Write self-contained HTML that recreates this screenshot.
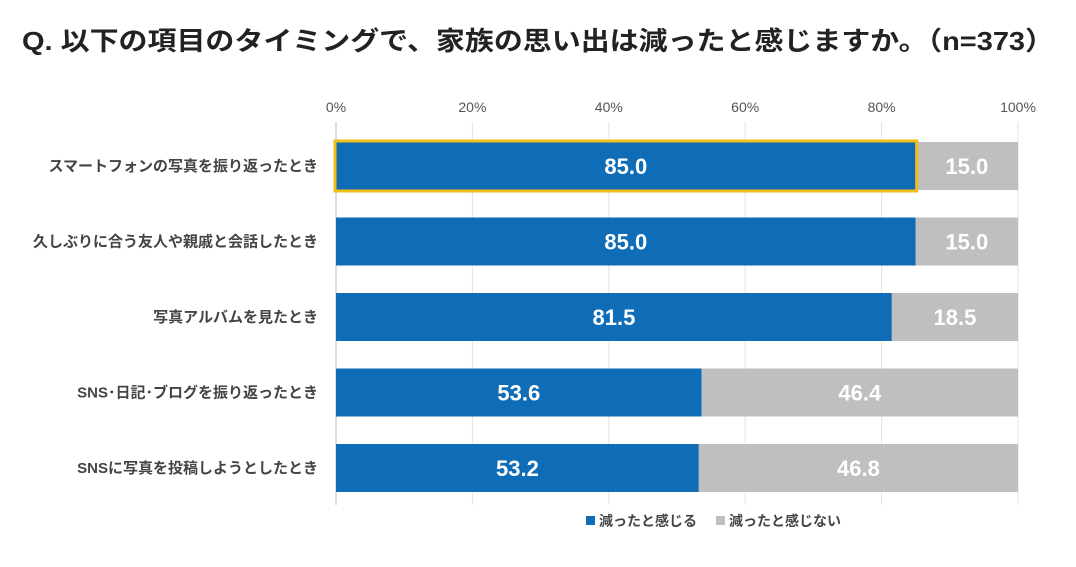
<!DOCTYPE html>
<html><head><meta charset="utf-8">
<style>
body{margin:0;background:#fff;width:1076px;height:562px;overflow:hidden;font-family:"Liberation Sans","Noto Sans CJK JP",sans-serif;}
svg text{font-family:"Liberation Sans","Noto Sans CJK JP",sans-serif;}
</style></head>
<body>
<svg id="chart" width="1076" height="562" xmlns="http://www.w3.org/2000/svg">
<text x="22" y="50" textLength="1032" lengthAdjust="spacingAndGlyphs" font-size="26" font-weight="bold" fill="#222">Q. 以下の項目のタイミングで、家族の思い出は減ったと感じますか。（n=373）</text>
<g id="grid"></g><g id="bars"></g>
<g>
<rect x="586" y="516" width="9" height="9" fill="#0F6CB6"/>
<text x="599" y="526" font-size="14" font-weight="bold" fill="#444">減ったと感じる</text>
<rect x="716" y="516" width="9" height="9" fill="#BFBFBF"/>
<text x="729" y="526" font-size="14" font-weight="bold" fill="#444">減ったと感じない</text>
</g>
</svg>
<script>
const categories=["スマートフォンの写真を振り返ったとき","久しぶりに合う友人や親戚と会話したとき","写真アルバムを見たとき","SNS･日記･ブログを振り返ったとき","SNSに写真を投稿しようとしたとき"];
const yesValues=[85.0,85.0,81.5,53.6,53.2];
const noValues=[15.0,15.0,18.5,46.4,46.8];
const ticks=[0,20,40,60,80,100];
const NS="http://www.w3.org/2000/svg";
const x0=336,x1=1018;
const xs=v=>x0+(x1-x0)*v/100;
const ys=i=>142+i*75.5;
const bh=48;
function mk(tag,attrs,parent,txt){const e=document.createElementNS(NS,tag);for(const k in attrs)e.setAttribute(k,attrs[k]);if(txt!==undefined)e.textContent=txt;parent.appendChild(e);return e;}
const grid=document.getElementById('grid'),bars=document.getElementById('bars');
ticks.forEach(t=>{
 const l=mk('line',{x1:xs(t),x2:xs(t),y1:122,y2:505,stroke:t===0?'#bbb':'#e3e3e3','stroke-width':1},grid);
 
 
 const tx=mk('text',{x:xs(t),y:112,'text-anchor':'middle','font-size':14,fill:'#555'},grid,t+'%');
 
 
});
categories.forEach((c,i)=>{
 const y=ys(i);
 const lab=mk('text',{x:318,y:y+bh/2+5,'text-anchor':'end','font-size':15,'font-weight':'bold',fill:'#444'},bars,c);
 
 
 const b1=mk('rect',{x:xs(0),y:y,width:xs(yesValues[i])-xs(0),height:bh,fill:'#0F6CB6'},bars);
 
 
 const b2=mk('rect',{x:xs(yesValues[i]),y:y,width:xs(yesValues[i]+noValues[i])-xs(yesValues[i]),height:bh,fill:'#BFBFBF'},bars);
 
 
 const t1=mk('text',{x:(xs(0)+xs(yesValues[i]))/2,y:y+bh/2+8,'text-anchor':'middle','font-size':22,'font-weight':'bold',fill:'#fff'},bars,yesValues[i].toFixed(1));
 
 
 const t2=mk('text',{x:(xs(yesValues[i])+xs(yesValues[i]+noValues[i]))/2,y:y+bh/2+8,'text-anchor':'middle','font-size':22,'font-weight':'bold',fill:'#fff'},bars,noValues[i].toFixed(1));
 
 
 if(i===0){
  const h=mk('rect',{x:xs(0)-1,y:y-1,width:xs(yesValues[i])-xs(0)+2,height:bh+2,fill:'none',stroke:'#F2BE1A','stroke-width':3},bars);
  
  
 }
});
</script>
</body></html>
